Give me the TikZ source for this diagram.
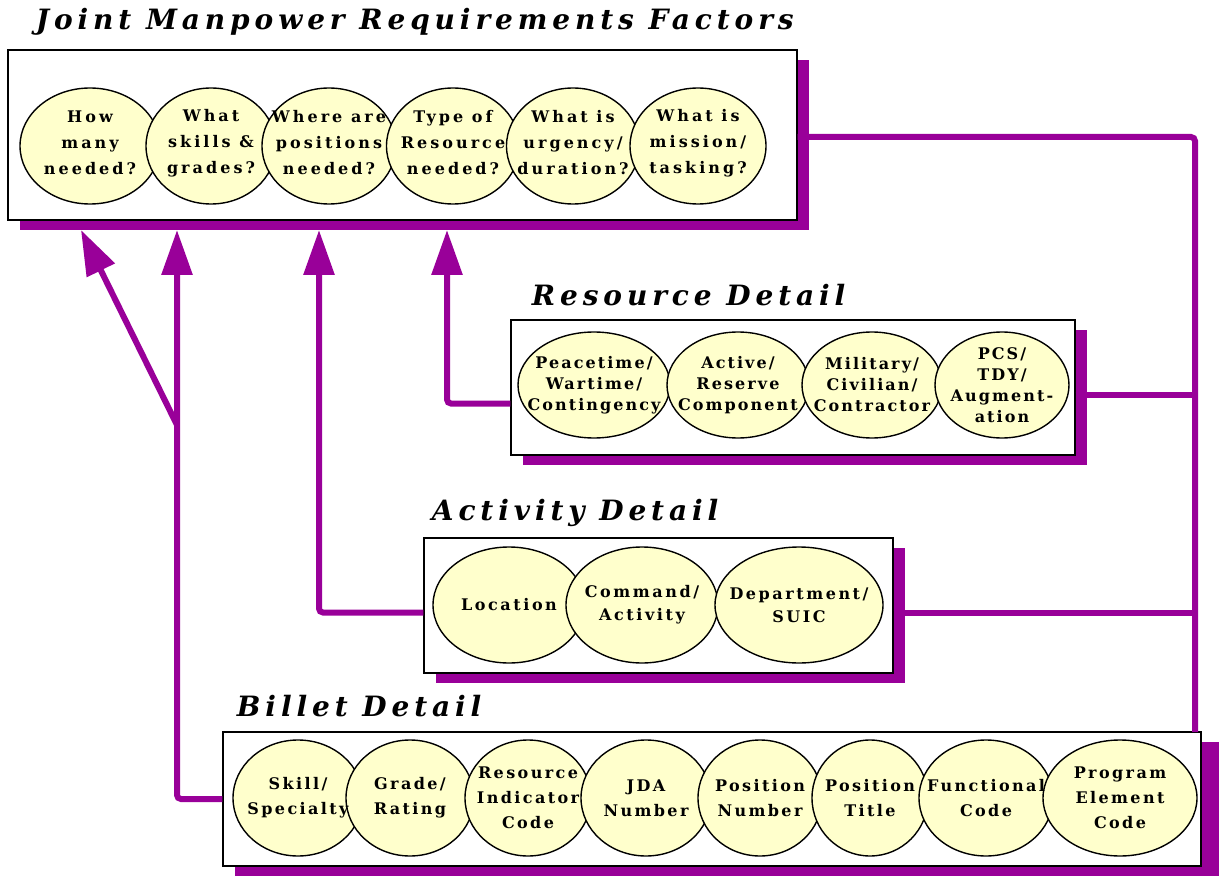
\documentclass[tikz,border=0pt]{standalone}
\usepackage{fontspec}
\setmainfont{DejaVu Serif}
\usetikzlibrary{arrows.meta,shapes.geometric,shadows,calc}
\definecolor{mgnt}{HTML}{990099}
\definecolor{cream}{HTML}{FFFFCC}
\tikzset{
  every picture/.style={line width=1.2pt},
  panel/.style={draw=black, fill=white, line width=1.3pt,
    general shadow={fill=mgnt, shadow xshift=12pt, shadow yshift=-10pt}},
  oval/.style={ellipse, draw=black, fill=cream, line width=1.4pt, inner sep=0pt},
  ovtext/.style 2 args={align=center, inner sep=0pt,
    font=\bfseries\fontsize{16}{#1}\selectfont\addfontfeature{LetterSpace=#2}},
  head/.style={anchor=base west,
    font=\bfseries\itshape\fontsize{28}{30}\selectfont\addfontfeature{LetterSpace=17.5}},
  link/.style={draw=mgnt, line width=6pt, rounded corners=4pt},
  feed/.style={link, -{Triangle[width=30pt,length=45pt]}},
}
% ellipse lists: centre x / width / text
\def\toplist{90/140/{How\\many\\needed?}, 211/130/{What\\skills \&\\grades?},
  329/134/{Where are\\positions\\needed?}, 453/133/{Type of\\Resource\\needed?},
  573/133/{What is\\urgency/\\duration?}, 698/136/{What is\\mission/\\tasking?}}
\def\reslist{594/152/{Peacetime/\\Wartime/\\Contingency}, 738/142/{Active/\\Reserve\\Component},
  872/140/{Military/\\Civilian/\\Contractor}, 1002/134/{PCS/\\TDY/\\Augment-\\ation}}
\def\actlist{509/152/{Location}, 642/152/{Command/\\Activity}, 799/168/{Department/\\SUIC}}
\def\billist{298/130/{Skill/\\Specialty}, 410/128/{Grade/\\Rating},
  528/126/{Resource\\Indicator\\Code}, 646/130/{JDA\\Number}, 760/124/{Position\\Number},
  870/116/{Position\\Title}, 986/134/{Functional\\Code}, 1120/154/{Program\\Element\\Code}}

\begin{document}
\begin{tikzpicture}[x=1pt,y=-1pt]
\useasboundingbox (0,0) rectangle (1221,877);

% panels
\node[panel, minimum width=789pt, minimum height=170pt] (jm) at (402.5,135) {};
\node[panel, minimum width=564pt, minimum height=135pt] (rd) at (793,387.5) {};
\node[panel, minimum width=469pt, minimum height=135pt] (ad) at (658.5,605.5) {};
\node[panel, minimum width=978pt, minimum height=134pt,
  general shadow={fill=mgnt, shadow xshift=18pt, shadow yshift=-10pt}] (bd) at (712,799) {};

% titles
\node[head] (jmt) at (32,30) {Joint Manpower Requirements Factors};
\node[head] (rdt) at (528,306) {Resource Detail};
\node[head] (adt) at (428,520) {Activity Detail};
\node[head] (bdt) at (233,716) {Billet Detail};

% ovals, then their texts on top
\foreach \cx/\w/\t [count=\i] in \toplist
  \node[oval, minimum width=\w pt, minimum height=116pt] (q\i) at (\cx,146) {};
\foreach \cx/\w/\t [count=\i] in \toplist
  \node[ovtext={26}{19}] (qt\i) at ([yshift=3pt]q\i.center) {\t};

\foreach \cx/\w/\t [count=\i] in \reslist
  \node[oval, minimum width=\w pt, minimum height=106pt] (r\i) at (\cx,385) {};
\foreach \cx/\w/\t [count=\i] in \reslist
  \node[ovtext={21}{13}] (rt\i) at (r\i.center) {\t};

\foreach \cx/\w/\t [count=\i] in \actlist
  \node[oval, minimum width=\w pt, minimum height=116pt] (a\i) at (\cx,605) {};
\foreach \cx/\w/\t [count=\i] in \actlist
  \node[ovtext={23}{16}] (at\i) at (a\i.center) {\t};

\foreach \cx/\w/\t [count=\i] in \billist
  \node[oval, minimum width=\w pt, minimum height=116pt] (b\i) at (\cx,798) {};
\foreach \cx/\w/\t [count=\i] in \billist
  \node[ovtext={25}{15}] (bt\i) at (b\i.center) {\t};

% connectors
\coordinate (bus) at (1195,732);
\coordinate (fork) at (177,425);
\coordinate (t1) at (81,230);
\coordinate (t2) at (177,230);
\coordinate (t3) at (319,230);
\coordinate (t4) at (447,230);
\draw[link] ([yshift=-2pt]jm.east) -| (bus);
\draw[link] ([yshift=-7pt]rd.east) -- ([yshift=-7pt]rd.east -| bus);
\draw[link] ([yshift=-7pt]ad.east) -- ([yshift=-7pt]ad.east -| bus);
\draw[feed] (bd.west) -| (t2);
\draw[feed] (fork) -- (t1);
\draw[feed] ([yshift=-7pt]ad.west) -| (t3);
\draw[feed] ([yshift=-16pt]rd.west) -| (t4);
\end{tikzpicture}
\end{document}
